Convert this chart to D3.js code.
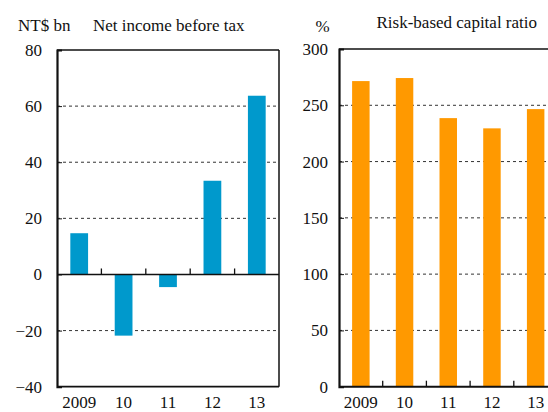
<!DOCTYPE html>
<html>
<head>
<meta charset="utf-8">
<script src="https://cdn.jsdelivr.net/npm/d3@7"></script>
<style>
  body { margin: 0; background: #fff; }
</style>
</head>
<body>
<div id="chart"></div>
<script>
// data
var years = ['2009', '10', '11', '12', '13'];
var netIncome = [14.7, -21.8, -4.5, 33.4, 63.7];
var capitalRatio = [271.5, 274.2, 238.6, 229.5, 246.6];
var incomeTicks = [-40, -20, 0, 20, 40, 60, 80];
var ratioTicks = [0, 50, 100, 150, 200, 250, 300];

var width = 548;
var height = 412;
var serif = '"Liberation Serif", "Times New Roman", Times, serif';

var svg = d3.select('#chart')
    .append('svg')
    .attr('width', width)
    .attr('height', height)
    .style('font-family', serif);

function drawPanel(opt) {
    // band scale for the bars, plain band for the category tick marks
    var x = d3.scaleBand()
        .domain(years)
        .range([opt.left, opt.right])
        .paddingInner(0.6)
        .paddingOuter(0.3);
    var xCat = d3.scaleBand()
        .domain(years)
        .range([opt.left, opt.right]);
    var y = d3.scaleLinear()
        .domain(opt.domain)
        .range([opt.bottom, opt.top]);

    var g = svg.append('g');

    // dashed gridlines
    g.append('g')
        .selectAll('line')
        .data(opt.ticks.filter(function (t) { return t !== opt.domain[0] && t !== opt.domain[1] && t !== 0; }))
        .enter()
        .append('line')
        .attr('x1', opt.left)
        .attr('x2', opt.right)
        .attr('y1', function (d) { return y(d); })
        .attr('y2', function (d) { return y(d); })
        .attr('stroke', '#333')
        .attr('stroke-width', 1)
        .attr('stroke-dasharray', '3,3');

    // bars
    g.append('g')
        .selectAll('rect')
        .data(opt.values)
        .enter()
        .append('rect')
        .attr('x', function (d, i) { return x(years[i]); })
        .attr('width', x.bandwidth())
        .attr('y', function (d) { return y(Math.max(0, d)); })
        .attr('height', function (d) { return Math.abs(y(d) - y(0)); })
        .attr('fill', opt.colour);

    // frame: top and right
    g.append('line')
        .attr('x1', opt.left).attr('x2', opt.right)
        .attr('y1', opt.top).attr('y2', opt.top)
        .attr('stroke', '#111').attr('stroke-width', 1.5);
    g.append('line')
        .attr('x1', opt.right).attr('x2', opt.right)
        .attr('y1', opt.top).attr('y2', opt.bottom)
        .attr('stroke', '#111').attr('stroke-width', 1.5);
    // bottom line
    g.append('line')
        .attr('x1', opt.left).attr('x2', opt.right)
        .attr('y1', opt.bottom).attr('y2', opt.bottom)
        .attr('stroke', '#111').attr('stroke-width', 1.8);
    // zero line
    g.append('line')
        .attr('x1', opt.left).attr('x2', opt.right)
        .attr('y1', y(0)).attr('y2', y(0))
        .attr('stroke', '#111').attr('stroke-width', 1.6);

    // category ticks pointing up from the zero line
    g.append('g')
        .selectAll('line')
        .data(years.slice(1))
        .enter()
        .append('line')
        .attr('x1', function (d) { return xCat(d); })
        .attr('x2', function (d) { return xCat(d); })
        .attr('y1', y(0))
        .attr('y2', y(0) - 6)
        .attr('stroke', '#111')
        .attr('stroke-width', 1.3);

    // y axis
    var yAxis = g.append('g')
        .attr('transform', 'translate(' + opt.left + ',0)')
        .call(d3.axisLeft(y).tickValues(opt.ticks).tickSize(-5).tickPadding(opt.pad));
    yAxis.attr('font-family', null).attr('font-size', null);
    yAxis.select('.domain').attr('stroke', '#111').attr('stroke-width', 2.2);
    yAxis.selectAll('.tick line').attr('stroke', '#111');
    yAxis.selectAll('text')
        .style('font-family', serif)
        .style('font-size', '17px')
        .attr('fill', '#111');

    // x labels
    g.append('g')
        .selectAll('text')
        .data(years)
        .enter()
        .append('text')
        .attr('x', function (d) { return x(d) + x.bandwidth() / 2; })
        .attr('y', 408)
        .attr('text-anchor', 'middle')
        .attr('fill', '#111')
        .style('font-family', serif)
        .style('font-size', '17px')
        .text(function (d) { return d; });

    // titles
    svg.append('text')
        .attr('x', opt.unitX)
        .attr('y', opt.unitY)
        .attr('fill', '#111')
        .style('font-family', serif)
        .style('font-size', '17px')
        .text(opt.unit);
    svg.append('text')
        .attr('x', opt.titleX)
        .attr('y', opt.titleY)
        .attr('fill', '#111')
        .style('font-family', serif)
        .style('font-size', '17px')
        .text(opt.title);
}

drawPanel({
    left: 57, right: 279, top: 50, bottom: 386.7,
    domain: [-40, 80], ticks: incomeTicks, values: netIncome,
    colour: '#0099cc', pad: 15,
    unit: 'NT$ bn', unitX: 18, unitY: 31,
    title: 'Net income before tax', titleX: 93, titleY: 31
});

drawPanel({
    left: 339, right: 557.5, top: 49, bottom: 386.7,
    domain: [0, 300], ticks: ratioTicks, values: capitalRatio,
    colour: '#ff9900', pad: 11,
    unit: '%', unitX: 315.5, unitY: 31.5,
    title: 'Risk-based capital ratio', titleX: 376.5, titleY: 27.5
});
</script>
</body>
</html>
